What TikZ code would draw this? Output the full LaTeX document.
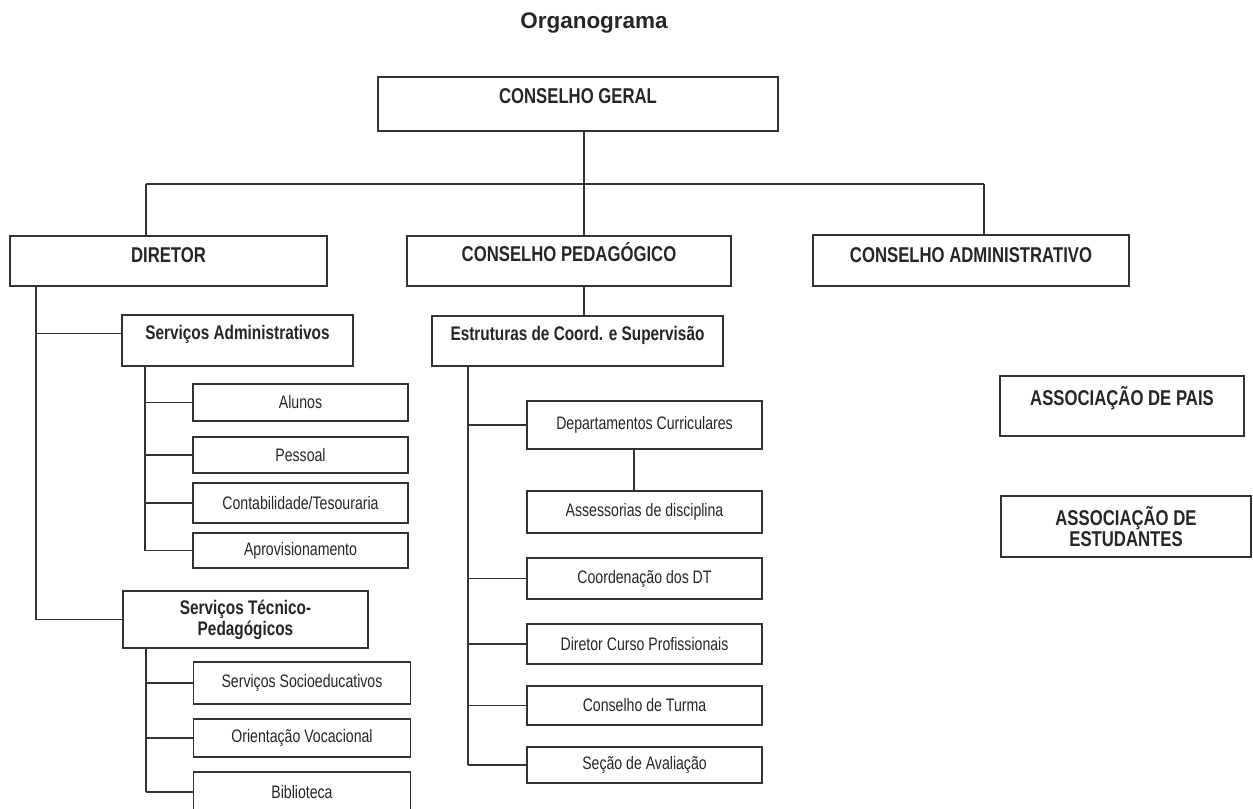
\documentclass[tikz,border=0pt]{standalone}
\usepackage{fontspec}
\setmainfont{Liberation Sans}
\newfontfamily\estreita[FakeStretch=0.78]{Liberation Sans}
\begin{document}
\begin{tikzpicture}[x=0.02cm, y=-0.02cm, line width=0.8pt, draw=black!80, text=black!85,
  caixa/.style 2 args={draw, inner sep=0pt, minimum width=#1*0.02cm, minimum height=#2*0.02cm},
  acima/.style={text depth=#1},
  titulo/.style={font=\fontsize{12.8}{15}\selectfont\bfseries},
  grande/.style={font=\estreita\fontsize{12.2}{12.4}\selectfont\bfseries},
  medio/.style={font=\estreita\fontsize{11.2}{11.9}\selectfont\bfseries},
  pequeno/.style={font=\estreita\fontsize{10.3}{10}\selectfont}]
  \useasboundingbox (0,0) rectangle (1253,808);

  % Titulo
  \node[titulo] (titulo) at (594,23) {Organograma};

  % Orgaos
  \node[caixa={400}{54}, grande, acima=9pt] (cg) at (578,104) {CONSELHO GERAL};
  \node[caixa={317}{50}, grande, acima=7pt] (dir) at (168.5,261) {DIRETOR};
  \node[caixa={324}{50}, grande, acima=10pt] (cp) at (569,261) {CONSELHO PEDAGÓGICO};
  \node[caixa={316}{51}, grande, acima=6pt] (ca) at (971,260.5) {CONSELHO ADMINISTRATIVO};

  % Barra
  \coordinate (barraE) at (146,184);
  \coordinate (barraM) at (584,184);
  \coordinate (barraD) at (984,184);
  \draw (barraE) -- (barraD);
  \draw (cg.south -| barraM) -- (cp.north -| barraM);
  \draw (barraE) -- (dir.north -| barraE);
  \draw (barraD) -- (ca.north -| barraD);

  % Servicos do diretor
  \node[caixa={231}{51}, medio, acima=9pt] (sa) at (237.5,340.5) {Serviços Administrativos};
  \node[caixa={245}{57}, medio, align=center] (st) at (245.5,619.5) {Serviços Técnico-\\Pedagógicos};
  \coordinate (troncoD) at (36,0);
  \draw (dir.south -| troncoD) -- (troncoD |- st.west) -- (st.west);
  \draw ([yshift=0.14cm]troncoD |- sa.west) -- ([yshift=0.14cm]sa.west);

  \coordinate (ramoSA) at (145,0);
  \foreach \nome/\y/\h/\texto in {alunos/402.5/37/Alunos, pessoal/455/36/Pessoal,
      contab/503/40/{Contabilidade/Tesouraria}, aprov/550.5/35/Aprovisionamento} {
    \node[caixa={215}{\h}, pequeno] (\nome) at (300.5,\y) {\texto};
    \draw (ramoSA |- \nome.west) -- (\nome.west);
  }
  \draw (sa.south -| ramoSA) -- (ramoSA |- aprov.west);

  \coordinate (ramoST) at (146,0);
  \foreach \nome/\y/\h/\texto in {socio/683/42/Serviços Socioeducativos,
      orient/738/38/Orientação Vocacional, biblio/792/40/Biblioteca} {
    \node[caixa={217}{\h}, pequeno] (\nome) at (302,\y) {\texto};
    \draw (ramoST |- \nome.west) -- (\nome.west);
  }
  \draw (st.south -| ramoST) -- (ramoST |- biblio.west);

  % Estruturas pedagogicas
  \node[caixa={291}{50}, medio, acima=9pt] (estr) at (577.5,341) {Estruturas de Coord. e Supervisão};
  \draw (cp.south -| barraM) -- (estr.north -| barraM);

  \coordinate (ramoE) at (468,0);
  \foreach \nome/\y/\h/\texto in {dep/425/48/Departamentos Curriculares,
      coorddt/578.5/41/Coordenação dos DT, dircurso/644/40/Diretor Curso Profissionais,
      turma/705.5/39/Conselho de Turma, secao/765/36/Seção de Avaliação} {
    \node[caixa={235}{\h}, pequeno] (\nome) at (644.5,\y) {\texto};
    \draw (ramoE |- \nome.west) -- (\nome.west);
  }
  \draw (estr.south -| ramoE) -- (ramoE |- secao.west);

  \node[caixa={235}{42}, pequeno] (assess) at (644.5,512) {Assessorias de disciplina};
  \coordinate (ligaDA) at (634,0);
  \draw (dep.south -| ligaDA) -- (assess.north -| ligaDA);

  % Associacoes
  \node[caixa={244}{60}, grande, acima=12pt] (ap) at (1122,406) {ASSOCIAÇÃO DE PAIS};
  \node[caixa={250}{61}, grande, align=center] (ae) at (1126,526.5) {ASSOCIAÇÃO DE\\ESTUDANTES};
\end{tikzpicture}
\end{document}
